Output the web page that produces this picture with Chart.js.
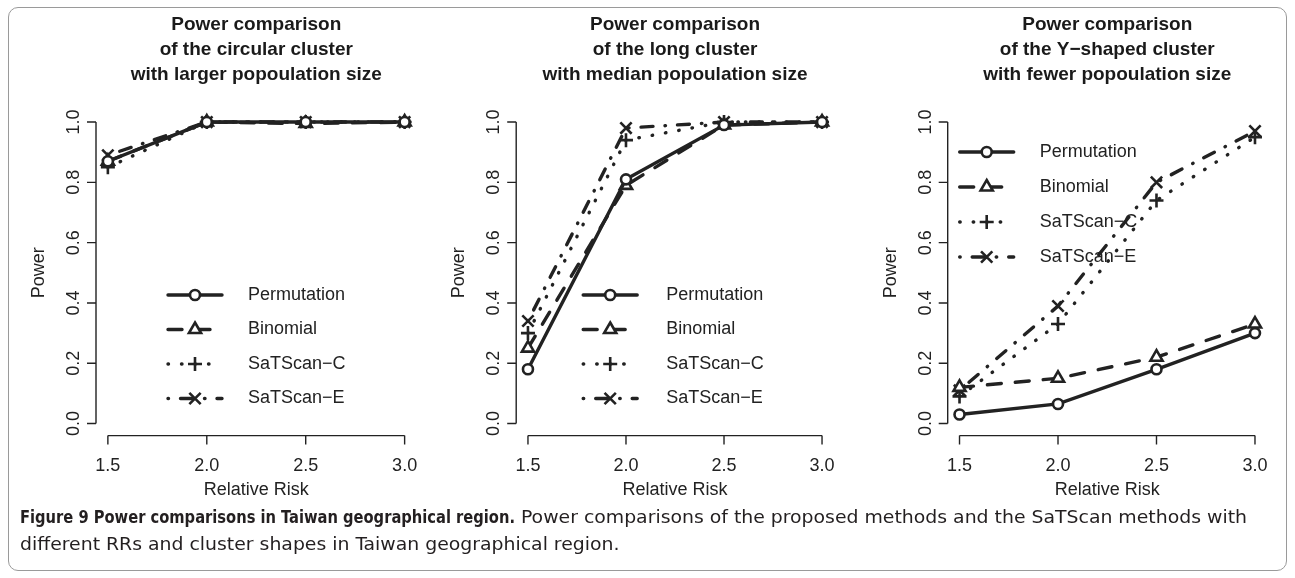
<!DOCTYPE html>
<html>
<head>
<meta charset="utf-8">
<script src="https://cdn.jsdelivr.net/npm/chart.js@4.4.1/dist/chart.umd.min.js"></script>
<style>
  html, body { margin: 0; padding: 0; background: #fff; }
  #page { position: relative; width: 1295px; height: 578px; overflow: hidden; }
  #frame { position: absolute; left: 8px; top: 7px; width: 1279px; height: 564px; border: 1px solid #9a9a9a; border-radius: 10px; box-sizing: border-box; }
  .panel { position: absolute; top: 0; }
  #caption { position: absolute; left: 20px; top: 504px; font-family: "Liberation Sans Narrow", "DejaVu Sans Condensed", "Liberation Sans", sans-serif; font-size: 17px; line-height: 27px; color: #231f20; white-space: nowrap; transform-origin: 0 0; }
  #caption span.line { display: inline-block; }
  #captionBold { display: inline-block; white-space: nowrap; transform-origin: 0 50%; }
</style>
</head>
<body>
<div id="page">
  <div id="frame"></div>
  <canvas id="circularChart" class="panel" width="430" height="505" style="left:0px"></canvas>
  <canvas id="longChart" class="panel" width="430" height="505" style="left:430px"></canvas>
  <canvas id="yShapedChart" class="panel" width="435" height="505" style="left:860px"></canvas>
  <div id="caption"><span class="line"><b id="captionBold">Figure 9 Power comparisons in Taiwan geographical region.</b><span id="captionRest"> Power comparisons of the proposed methods and the SaTScan methods with</span></span><br><span class="line">different RRs and cluster shapes in Taiwan geographical region.</span></div>
</div>
<script>
'use strict';

// Data
const relativeRisk = [1.5, 2.0, 2.5, 3.0];
const xTicks = [1.5, 2.0, 2.5, 3.0];
const yTicks = [0.0, 0.2, 0.4, 0.6, 0.8, 1.0];
const methodNames = ['Permutation', 'Binomial', 'SaTScan\u2212C', 'SaTScan\u2212E'];

// circular cluster, larger population size
const circPermutation = [0.87, 1.00, 1.00, 1.00];
const circBinomial = [0.87, 1.00, 0.995, 1.00];
const circSatscanC = [0.85, 1.00, 1.00, 1.00];
const circSatscanE = [0.89, 1.00, 1.00, 1.00];

// long cluster, median population size
const longPermutation = [0.18, 0.81, 0.99, 1.00];
const longBinomial = [0.25, 0.79, 0.99, 1.00];
const longSatscanC = [0.30, 0.94, 1.00, 1.00];
const longSatscanE = [0.34, 0.98, 1.00, 1.00];

// Y-shaped cluster, fewer population size
const yPermutation = [0.03, 0.065, 0.18, 0.30];
const yBinomial = [0.12, 0.15, 0.22, 0.33];
const ySatscanC = [0.09, 0.33, 0.74, 0.95];
const ySatscanE = [0.11, 0.39, 0.80, 0.97];

const titleCircular = ['Power comparison', 'of the circular cluster', 'with larger popoulation size'];
const titleLong = ['Power comparison', 'of the long cluster', 'with median popoulation size'];
const titleYShaped = ['Power comparison', 'of the Y\u2212shaped cluster', 'with fewer popoulation size'];

const ink = '#222222';
const fontFamily = '"Liberation Sans", Arial, Helvetica, sans-serif';

// R style lty 1..4, pch 1..4
const methodStyles = [
  { dash: [], pointStyle: 'circle', radius: 5 },
  { dash: [14, 14], pointStyle: 'triangle', radius: 7 },
  { dash: [0.5, 13], pointStyle: 'cross', radius: 7 },
  { dash: [0.5, 12, 12, 12], pointStyle: 'crossRot', radius: 8 }
];

function drawMarker(ctx, style, x, y, r) {
  ctx.save();
  ctx.setLineDash([]);
  ctx.lineWidth = 2.6;
  ctx.strokeStyle = ink;
  ctx.fillStyle = '#fff';
  ctx.beginPath();
  if (style === 'circle') {
    ctx.arc(x, y, r, 0, Math.PI * 2);
    ctx.fill();
  } else if (style === 'triangle') {
    ctx.moveTo(x, y - r);
    ctx.lineTo(x + r * 0.866, y + r * 0.5);
    ctx.lineTo(x - r * 0.866, y + r * 0.5);
    ctx.closePath();
    ctx.fill();
  } else if (style === 'cross') {
    ctx.moveTo(x - r, y); ctx.lineTo(x + r, y);
    ctx.moveTo(x, y - r); ctx.lineTo(x, y + r);
  } else {
    const d = r * 0.7071;
    ctx.moveTo(x - d, y - d); ctx.lineTo(x + d, y + d);
    ctx.moveTo(x - d, y + d); ctx.lineTo(x + d, y - d);
  }
  ctx.stroke();
  ctx.restore();
}

// axes, titles and legend in the look of base R graphics
const rPlotPlugin = {
  id: 'rPlot',
  afterDraw(chart, args, opts) {
    const { ctx, chartArea } = chart;
    const x = chart.scales.x;
    const y = chart.scales.y;
    ctx.save();
    ctx.strokeStyle = ink;
    ctx.fillStyle = ink;
    ctx.lineWidth = 1.4;
    ctx.setLineDash([]);

    const xb = chartArea.bottom;
    const yl = chartArea.left;
    ctx.beginPath();
    ctx.moveTo(x.getPixelForValue(xTicks[0]), xb);
    ctx.lineTo(x.getPixelForValue(xTicks[xTicks.length - 1]), xb);
    xTicks.forEach(v => {
      const px = x.getPixelForValue(v);
      ctx.moveTo(px, xb);
      ctx.lineTo(px, xb + 9);
    });
    ctx.moveTo(yl, y.getPixelForValue(yTicks[0]));
    ctx.lineTo(yl, y.getPixelForValue(yTicks[yTicks.length - 1]));
    yTicks.forEach(v => {
      const py = y.getPixelForValue(v);
      ctx.moveTo(yl, py);
      ctx.lineTo(yl - 9, py);
    });
    ctx.stroke();

    ctx.font = '18px ' + fontFamily;
    ctx.textAlign = 'center';
    ctx.textBaseline = 'middle';
    xTicks.forEach(v => ctx.fillText(v.toFixed(1), x.getPixelForValue(v), xb + 30));
    const cx = (chartArea.left + chartArea.right) / 2;
    const cy = (chartArea.top + chartArea.bottom) / 2;
    ctx.fillText('Relative Risk', cx, xb + 54);

    yTicks.forEach(v => {
      ctx.save();
      ctx.translate(yl - 22, y.getPixelForValue(v));
      ctx.rotate(-Math.PI / 2);
      ctx.fillText(v.toFixed(1), 0, 0);
      ctx.restore();
    });
    ctx.save();
    ctx.translate(yl - 57, cy);
    ctx.rotate(-Math.PI / 2);
    ctx.fillText('Power', 0, 0);
    ctx.restore();

    // main title
    ctx.font = 'bold 19px ' + fontFamily;
    ctx.fillStyle = '#1a1a1a';
    opts.title.forEach((line, i) => ctx.fillText(line, cx, 25 + i * 25));

    // legend (no box)
    const lg = opts.legend;
    ctx.font = '18px ' + fontFamily;
    ctx.textAlign = 'left';
    ctx.fillStyle = ink;
    methodNames.forEach((name, i) => {
      const ry = lg.top + i * lg.step;
      const st = methodStyles[i];
      ctx.save();
      ctx.lineWidth = 3.4;
      ctx.lineCap = 'round';
      ctx.setLineDash(st.dash);
      ctx.beginPath();
      ctx.moveTo(yl + lg.x0, ry);
      ctx.lineTo(yl + lg.x1, ry);
      ctx.stroke();
      ctx.restore();
      drawMarker(ctx, st.pointStyle, yl + (lg.x0 + lg.x1) / 2, ry, st.pointStyle === 'circle' ? 5 : st.radius);
      ctx.fillText(name, yl + lg.tx, ry);
    });
    ctx.restore();
  }
};

function makeDatasets(series) {
  return series.map((values, i) => ({
    label: methodNames[i],
    data: relativeRisk.map((rr, j) => ({ x: rr, y: values[j] })),
    borderColor: ink,
    borderWidth: 3.4,
    borderDash: methodStyles[i].dash,
    borderCapStyle: 'round',
    fill: false,
    tension: 0,
    pointStyle: methodStyles[i].pointStyle,
    pointRadius: methodStyles[i].radius,
    pointBorderWidth: 2.6,
    pointBorderColor: ink,
    pointBackgroundColor: '#fff',
    clip: false
  }));
}

function makePanel(canvasId, series, title, padding, legend) {
  const ctx = document.getElementById(canvasId).getContext('2d');
  return new Chart(ctx, {
    type: 'line',
    data: { datasets: makeDatasets(series) },
    options: {
      responsive: false,
      animation: false,
      devicePixelRatio: 1,
      layout: { padding: padding },
      events: [],
      scales: {
        x: { type: 'linear', min: 1.44, max: 3.06, display: false },
        y: { type: 'linear', min: -0.04, max: 1.04, display: false }
      },
      plugins: {
        legend: { display: false },
        tooltip: { enabled: false },
        rPlot: { title: title, legend: legend }
      }
    },
    plugins: [rPlotPlugin]
  });
}

makePanel('circularChart',
  [circPermutation, circBinomial, circSatscanC, circSatscanE],
  titleCircular,
  { left: 96, right: 13.5, top: 110, bottom: 69.4 },
  { x0: 72, x1: 126, tx: 152, top: 295, step: 34.5 });

makePanel('longChart',
  [longPermutation, longBinomial, longSatscanC, longSatscanE],
  titleLong,
  { left: 86.2, right: 26.2, top: 110, bottom: 69.4 },
  { x0: 67, x1: 121, tx: 150, top: 295, step: 34.5 });

makePanel('yShapedChart',
  [yPermutation, yBinomial, ySatscanC, ySatscanE],
  titleYShaped,
  { left: 87.7, right: 28.2, top: 110, bottom: 69.4 },
  { x0: 12, x1: 66, tx: 92, top: 152, step: 35 });

// fit the caption to the widths it has in the figure (condensed face)
const cap = document.getElementById('caption');
const boldEl = document.getElementById('captionBold');
const restEl = document.getElementById('captionRest');
const restW = restEl.getBoundingClientRect().width;
const scale = (1227 - 495) / restW;
const boldW = boldEl.getBoundingClientRect().width;
const boldTarget = 495 / scale;
boldEl.style.transform = 'scaleX(' + (boldTarget / boldW) + ')';
boldEl.style.width = boldTarget + 'px';
cap.style.transform = 'scaleX(' + scale + ')';
</script>
</body>
</html>
